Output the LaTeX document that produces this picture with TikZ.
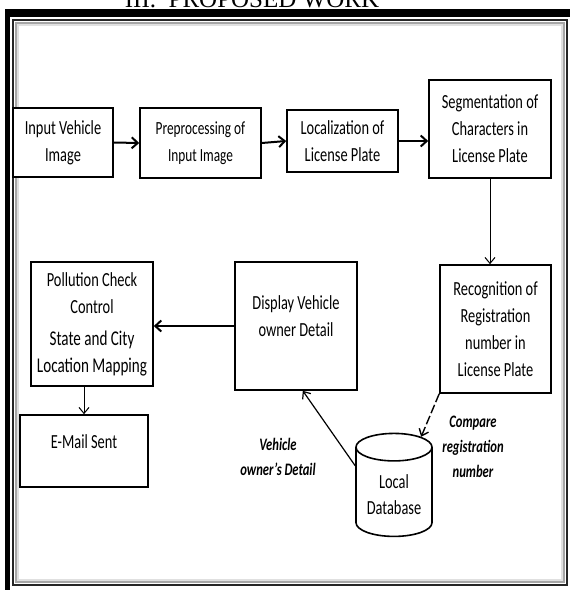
\documentclass[tikz,border=0pt]{standalone}
\usepackage{fontspec}
\setmainfont{Carlito}[FakeStretch=0.72]
\newfontfamily\titlefont{Liberation Serif}
\usetikzlibrary{positioning,arrows.meta,shapes.geometric,calc}

\begin{document}
\begin{tikzpicture}[x=1pt,y=-1pt,
  stage/.style={rectangle,draw=black,line width=1.6pt,fill=white,align=center,
                font=\fontsize{20}{27}\selectfont,inner sep=2pt},
  flow/.style={-{Straight Barb[length=6pt,width=11pt]},line width=2pt},
  thinflow/.style={-{Straight Barb[length=6pt,width=10pt]},line width=1pt},
  note/.style={align=center,font=\fontsize{17.5}{25}\selectfont\bfseries\itshape}
]
\useasboundingbox (0,0) rectangle (570,590);
\clip (0,0) rectangle (570,590);
% frame
\node[font=\titlefont\fontsize{25}{25}\selectfont,anchor=base] (title) at (252,7.5) {III.\ \ PROPOSED WORK};
\fill[black] (5,9) rectangle (590,610);
\fill[white] (10,17) rectangle (590,610);
\draw[black!85,line width=2pt] (13,20) rectangle (567,585);
\draw[black!35,line width=1.5pt] (16,23) rectangle (564,582);
\draw[black!12,line width=1.5pt] (18,25) rectangle (562,580);

% boxes
\node[stage,minimum width=100pt,minimum height=69pt] (input) at (63,142.5) {Input Vehicle\\Image};
\node[stage,minimum width=121pt,minimum height=70pt,font=\fontsize{18.5}{27}\selectfont] (prep) at (200.5,143) {Preprocessing of\\Input Image};
\node[stage,minimum width=111pt,minimum height=62pt] (loc) at (342.5,141) {Localization of\\License Plate};
\node[stage,minimum width=122pt,minimum height=98pt] (seg) at (490,129) {Segmentation of\\Characters in\\License Plate};
\node[stage,minimum width=111pt,minimum height=128pt] (recog) at (495.5,329) {Recognition of\\Registration\\number in\\License Plate};
\node[stage,minimum width=122pt,minimum height=128pt] (disp) at (296,326) {};
\node[align=center,font=\fontsize{20}{27}\selectfont] (dispText) at (296,316) {Display Vehicle\\owner Detail};
\node[stage,minimum width=122pt,minimum height=124pt] (poll) at (92,324) {Pollution Check\\Control\\[5pt]{\fontsize{21}{29}\selectfont State and City}\\{\fontsize{21}{29}\selectfont Location Mapping}};
\node[stage,minimum width=128pt,minimum height=72pt] (email) at (84,451) {};
\node[font=\fontsize{20}{27}\selectfont] (emailText) at (84,442) {E-Mail Sent};
\node[cylinder,shape border rotate=90,draw=black,line width=1.6pt,aspect=0.45,
      minimum width=76pt,minimum height=103pt,align=center,
      font=\fontsize{20}{26}\selectfont] (db) at (394,495) {Local\\Database};

% labels
\node[note] (ownerLbl) at (278,457) {Vehicle\\owner's Detail};
\node[note] (cmpLbl) at (473,447) {Compare\\registration\\number};

% connectors
\draw[flow] (input.east) -- (prep.west);
\draw[flow] (prep.east) -- (loc.west);
\draw[flow] (loc.east) -- (loc.east -| seg.west);
\draw[thinflow] (seg.south) -- (seg.south |- recog.north);
\draw[flow] (disp.west) -- (disp.west -| poll.east);
\draw[thinflow] (email.north |- poll.south) -- (email.north);
\draw[thinflow,line width=1.4pt,dash pattern=on 9pt off 3pt] (recog.south west) -- (db.65);
\draw[thinflow,line width=1.2pt] (db.143) -- (disp.-84);
\end{tikzpicture}
\end{document}
